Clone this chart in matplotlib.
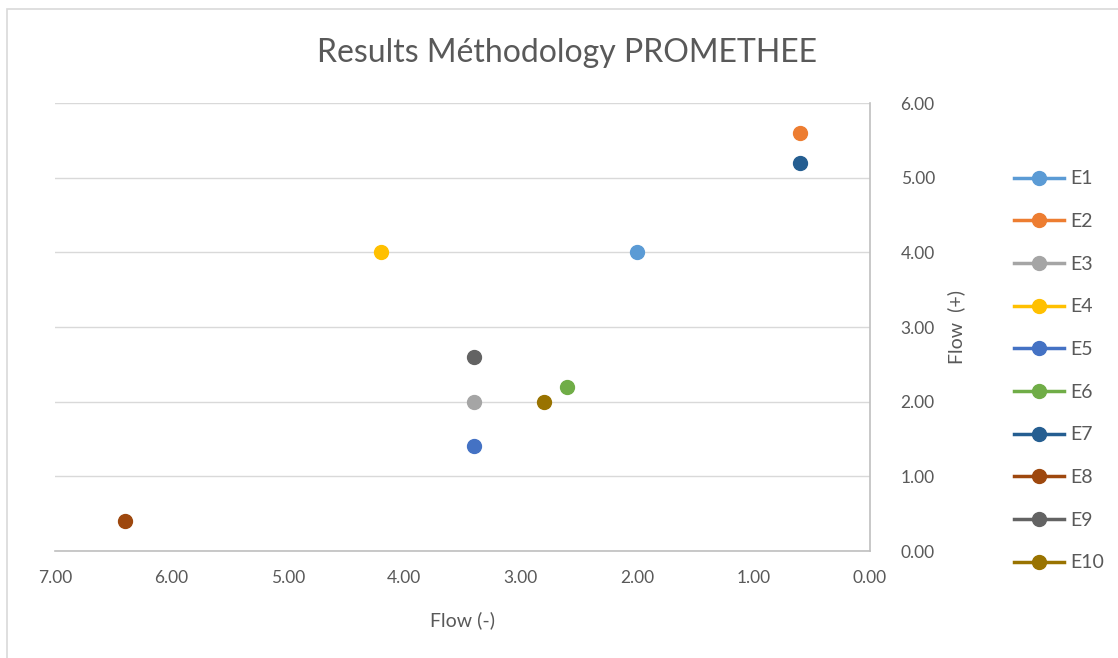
import matplotlib.pyplot as plt
from matplotlib.patches import Rectangle

plt.rcParams['font.family'] = ['Lato', 'DejaVu Sans']

# Données
labels = ['E1', 'E2', 'E3', 'E4', 'E5', 'E6', 'E7', 'E8', 'E9', 'E10']
flow_minus = [2.0, 0.6, 3.4, 4.2, 3.4, 2.6, 0.6, 6.4, 3.4, 2.8]
flow_plus = [4.0, 5.6, 2.0, 4.0, 1.4, 2.2, 5.2, 0.4, 2.6, 2.0]
colors = ['#5B9BD5', '#ED7D31', '#A5A5A5', '#FFC000', '#4472C4',
          '#70AD47', '#255E91', '#9E480E', '#636363', '#997300']
x_ticks = [7, 6, 5, 4, 3, 2, 1, 0]
y_ticks = [0, 1, 2, 3, 4, 5, 6]

txt = '#595959'

fig = plt.figure(figsize=(11.18, 6.58), dpi=100)
ax = fig.add_axes([55 / 1118, 1 - 551 / 658, (870 - 55) / 1118, (551 - 103) / 658])

for lab, xv, yv, c in zip(labels, flow_minus, flow_plus, colors):
    ax.plot([xv], [yv], marker='o', ms=10, color=c, lw=2.5, label=lab,
            linestyle='-', zorder=3)

ax.set_xlim(7, 0)
ax.set_ylim(0, 6)
ax.set_xticks(x_ticks)
ax.set_yticks(y_ticks)
ax.set_xticklabels(['%.2f' % v for v in x_ticks])
ax.set_yticklabels(['%.2f' % v for v in y_ticks])
ax.yaxis.tick_right()
ax.yaxis.set_label_position('right')
ax.tick_params(axis='both', length=0, labelsize=12.5, colors=txt)
ax.tick_params(axis='x', pad=14)
ax.tick_params(axis='y', pad=22)
ax.grid(axis='y', color='#D9D9D9', lw=1)
ax.set_axisbelow(True)

for s in ['top', 'left']:
    ax.spines[s].set_visible(False)
for s in ['right', 'bottom']:
    ax.spines[s].set_color('#BFBFBF')
    ax.spines[s].set_linewidth(1.2)

ax.set_xlabel('Flow (-)', fontsize=14, color=txt, labelpad=18)
ax.set_ylabel('Flow  (+)', fontsize=14, color=txt, labelpad=9)
fig.text(567 / 1118, 1 - 53 / 658, 'Results Méthodology PROMETHEE',
         fontsize=23, color=txt, ha='center', va='center')

leg = ax.legend(loc='center left', bbox_to_anchor=(1.155, 0.402), frameon=False,
                fontsize=14, labelspacing=1.32, handlelength=2.6,
                handletextpad=0.3)
for t in leg.get_texts():
    t.set_color(txt)

# cadre du graphique
fig.patches.append(Rectangle((7 / 1118, -0.05), 1.2, 1 - 9 / 658 + 0.05,
                             transform=fig.transFigure, fill=False,
                             edgecolor='#D9D9D9', lw=1.2))

fig.savefig('out.png', dpi=100)
